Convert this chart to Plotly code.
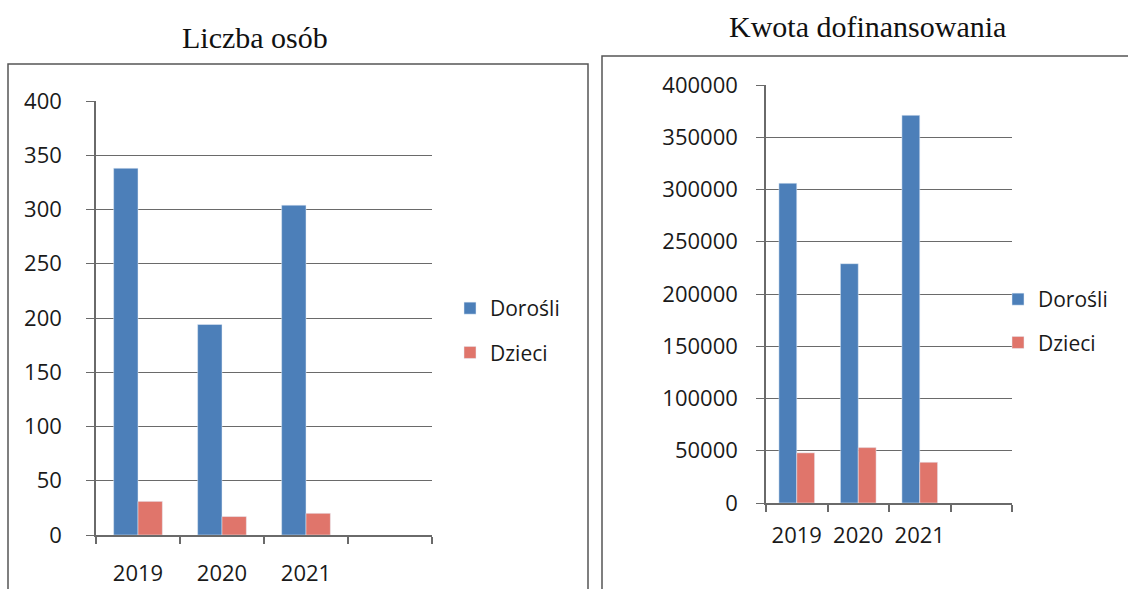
import plotly.graph_objects as go

years = ["2019", "2020", "2021"]
x_pos = [0, 1, 2]
boundaries = [-0.5, 0.5, 1.5, 2.5, 3.5]

osoby_dorosli = [338, 194, 304]
osoby_dzieci = [31, 17, 20]

kwota_dorosli = [306000, 229000, 371000]
kwota_dzieci = [48000, 53000, 39000]

BLUE = "#4C7FB9"
RED = "#E0756B"
W, H = 1128, 589

fig = go.Figure()

fig.add_trace(go.Bar(x=x_pos, y=osoby_dorosli, name="Dorośli", marker_color=BLUE,
                     xaxis="x", yaxis="y", legend="legend", legendgroup="a"))
fig.add_trace(go.Bar(x=x_pos, y=osoby_dzieci, name="Dzieci", marker_color=RED,
                     xaxis="x", yaxis="y", legend="legend", legendgroup="b"))
fig.add_trace(go.Bar(x=x_pos, y=kwota_dorosli, name="Dorośli", marker_color=BLUE,
                     xaxis="x2", yaxis="y2", legend="legend2", legendgroup="c"))
fig.add_trace(go.Bar(x=x_pos, y=kwota_dzieci, name="Dzieci", marker_color=RED,
                     xaxis="x2", yaxis="y2", legend="legend2", legendgroup="d"))

tickfont = dict(family="Open Sans", size=22, color="#1a1a1a")
legfont = dict(family="Open Sans", size=21, color="#1a1a1a")
gridc = "#6a6a6a"

def xaxis(domain, anchor, standoff):
    return dict(domain=domain, anchor=anchor, range=[-0.5, 3.5], tickvals=x_pos, ticktext=years,
                ticks="", showgrid=False, showline=True, linecolor=gridc, linewidth=1.5,
                tickfont=tickfont, ticklabelstandoff=standoff, zeroline=False, automargin=False,
                minor=dict(tickvals=boundaries, ticks="outside", ticklen=7, tickcolor=gridc, tickwidth=1.5))

def yaxis(domain, anchor, rng, dtick, standoff):
    return dict(domain=domain, anchor=anchor, range=rng, dtick=dtick, showgrid=True, gridcolor=gridc,
                gridwidth=1.2, showline=True, linecolor=gridc, linewidth=1.5, ticks="outside",
                ticklen=8, tickcolor=gridc, tickfont=tickfont, ticklabelstandoff=standoff,
                zeroline=False, tickformat="d", automargin=False)

fig.update_layout(
    width=W, height=H, margin=dict(l=0, r=0, t=0, b=0, autoexpand=False),
    paper_bgcolor="white", plot_bgcolor="white",
    barmode="group", bargap=0.42, bargroupgap=0,
    xaxis=xaxis([96 / W, 432 / W], "y", 18),
    yaxis=yaxis([1 - 535 / H, 1 - 101 / H], "x", [0, 400], 50, 20),
    xaxis2=xaxis([766 / W, 1012 / W], "y2", 12),
    yaxis2=yaxis([1 - 503 / H, 1 - 85 / H], "x2", [0, 400000], 50000, 14),
    legend=dict(x=450 / W, y=1 - 288 / H, xanchor="left", yanchor="top", font=legfont,
                tracegroupgap=14, bgcolor="rgba(0,0,0,0)", itemwidth=30),
    legend2=dict(x=998 / W, y=1 - 279 / H, xanchor="left", yanchor="top", font=legfont,
                 tracegroupgap=13, bgcolor="rgba(0,0,0,0)", itemwidth=30),
    shapes=[
        dict(type="rect", xref="paper", yref="paper", x0=8 / W, x1=588 / W, y0=-0.01, y1=1 - 64 / H,
             line=dict(color="#555", width=1.5)),
        dict(type="rect", xref="paper", yref="paper", x0=602 / W, x1=1.01, y0=-0.01, y1=1 - 56 / H,
             line=dict(color="#555", width=1.5)),
    ],
    annotations=[
        dict(text="Liczba osób", x=255 / W, y=1 - 37 / H, xref="paper", yref="paper", showarrow=False,
             font=dict(family="Liberation Serif", size=30, color="#111"), xanchor="center", yanchor="middle"),
        dict(text="Kwota dofinansowania", x=868 / W, y=1 - 27 / H, xref="paper", yref="paper", showarrow=False,
             font=dict(family="Liberation Serif", size=30, color="#111"), xanchor="center", yanchor="middle"),
    ],
)

fig.write_html("out.html", config={"displayModeBar": False},
               post_script="document.body.style.margin='0px';document.body.style.overflow='hidden';")
